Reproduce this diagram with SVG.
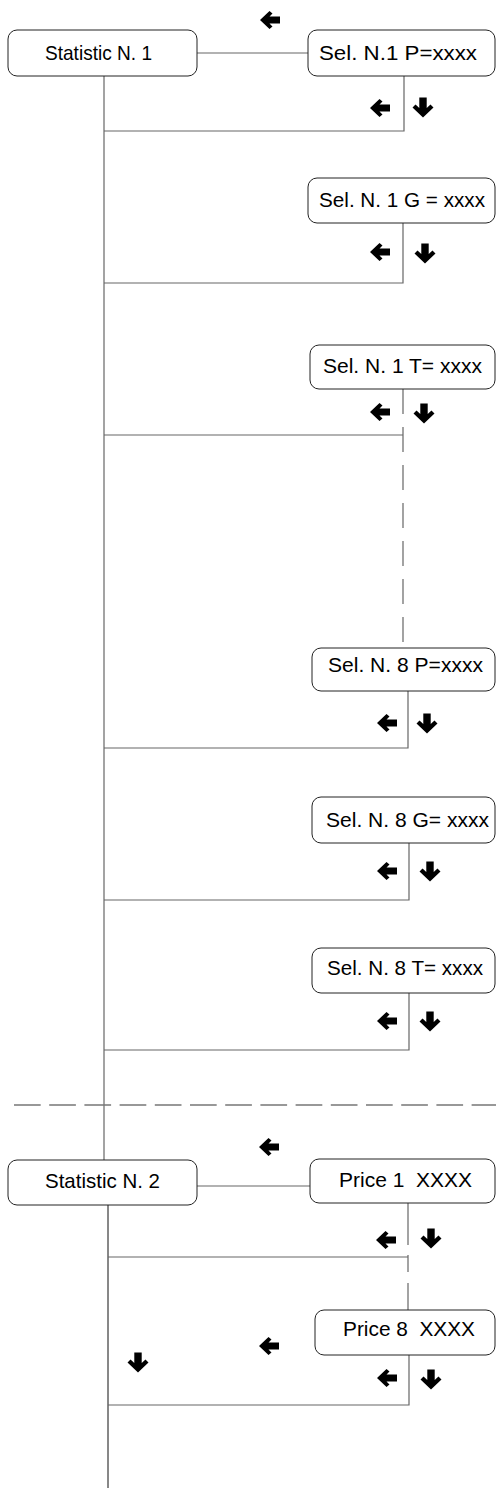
<svg xmlns="http://www.w3.org/2000/svg" xmlns:xlink="http://www.w3.org/1999/xlink" width="496" height="1488" viewBox="0 0 496 1488">
<style>
.box{fill:#fff;stroke:#222;stroke-width:1}
.t{font-family:"Liberation Sans",Arial,sans-serif;font-size:21px;fill:#000}
.c{stroke:#666;stroke-width:1.2;fill:none}
.cb{stroke:#111;stroke-width:1;fill:none}
.d{stroke:#666;stroke-width:1.2;fill:none;stroke-dasharray:25 13}
.dh{stroke:#777;stroke-width:1.5;fill:none;stroke-dasharray:26.7 8.5}
</style>
<defs>
<path id="la" d="M-10,0 L-0.5,-9 L2.5,-6.5 L-0.5,-3.6 L10,-3.6 L10,3.6 L-0.5,3.6 L2.5,6.5 L-0.5,9 Z" fill="#000"/>
<path id="da" d="M0,10.5 L-10.5,0.5 L-7.5,-2.5 L-3.7,1 L-3.7,-9.5 L3.7,-9.5 L3.7,1 L7.5,-2.5 L10.5,0.5 Z" fill="#000"/>
</defs>
<g id="connectors">
<line class="c" x1="197" y1="53" x2="308" y2="53"/>
<line class="c" x1="104" y1="76" x2="104" y2="1160"/>
<polyline class="c" points="404,76 404,131 104,131"/>
<polyline class="c" points="403,223 403,283 104,283"/>
<line class="d" x1="403" y1="389" x2="403" y2="648"/>
<line class="c" x1="104" y1="435" x2="403" y2="435"/>
<polyline class="c" points="408,691 408,748 104,748"/>
<polyline class="c" points="409,843 409,900 104,900"/>
<polyline class="c" points="409,993 409,1050 104,1050"/>
<line class="dh" x1="14" y1="1105" x2="496" y2="1105"/>
<line class="c" x1="197" y1="1186" x2="310" y2="1186"/>
<line class="cb" x1="108" y1="1205" x2="108" y2="1488"/>
<line class="c" x1="408" y1="1203" x2="408" y2="1245"/>
<line class="c" x1="408" y1="1255" x2="408" y2="1272"/>
<line class="c" x1="408" y1="1283" x2="408" y2="1310"/>
<line class="c" x1="108" y1="1257" x2="408" y2="1257"/>
<polyline class="c" points="409,1355 409,1405 108,1405"/>
</g>
<g id="arrows">
<use xlink:href="#la" x="270" y="20"/>
<use xlink:href="#la" x="380" y="108"/>
<use xlink:href="#da" x="423" y="107"/>
<use xlink:href="#la" x="380" y="252"/>
<use xlink:href="#da" x="425" y="253"/>
<use xlink:href="#la" x="380" y="412"/>
<use xlink:href="#da" x="424" y="413"/>
<use xlink:href="#la" x="387" y="723"/>
<use xlink:href="#da" x="427" y="723"/>
<use xlink:href="#la" x="387" y="871"/>
<use xlink:href="#da" x="430" y="871"/>
<use xlink:href="#la" x="387" y="1021"/>
<use xlink:href="#da" x="430" y="1021"/>
<use xlink:href="#la" x="269" y="1147"/>
<use xlink:href="#la" x="386" y="1240"/>
<use xlink:href="#da" x="431" y="1238"/>
<use xlink:href="#la" x="269" y="1346"/>
<use xlink:href="#da" x="138" y="1362"/>
<use xlink:href="#la" x="387" y="1378"/>
<use xlink:href="#da" x="431" y="1379"/>
</g>
<g id="stat1"><rect class="box" x="8" y="30" width="189" height="46" rx="9"/><text class="t" x="45" y="60" textLength="107" lengthAdjust="spacingAndGlyphs">Statistic N. 1</text></g>
<g id="sel1p"><rect class="box" x="308" y="30" width="187" height="46" rx="9"/><text class="t" x="319" y="60" textLength="158" lengthAdjust="spacingAndGlyphs">Sel. N.1 P=xxxx</text></g>
<g id="sel1g"><rect class="box" x="308" y="178" width="187" height="45" rx="9"/><text class="t" x="319" y="207" textLength="166" lengthAdjust="spacingAndGlyphs">Sel. N. 1 G = xxxx</text></g>
<g id="sel1t"><rect class="box" x="310" y="345" width="185" height="44" rx="9"/><text class="t" x="323" y="373" textLength="159" lengthAdjust="spacingAndGlyphs">Sel. N. 1 T= xxxx</text></g>
<g id="sel8p"><rect class="box" x="312" y="648" width="183" height="43" rx="9"/><text class="t" x="328" y="672" textLength="155" lengthAdjust="spacingAndGlyphs">Sel. N. 8 P=xxxx</text></g>
<g id="sel8g"><rect class="box" x="312" y="797" width="183" height="46" rx="9"/><text class="t" x="326" y="827" textLength="163" lengthAdjust="spacingAndGlyphs">Sel. N. 8 G= xxxx</text></g>
<g id="sel8t"><rect class="box" x="312" y="948" width="183" height="45" rx="9"/><text class="t" x="327" y="975" textLength="156" lengthAdjust="spacingAndGlyphs">Sel. N. 8 T= xxxx</text></g>
<g id="stat2"><rect class="box" x="8" y="1160" width="189" height="45" rx="9"/><text class="t" x="45" y="1188" textLength="115" lengthAdjust="spacingAndGlyphs">Statistic N. 2</text></g>
<g id="price1"><rect class="box" x="310" y="1159" width="185" height="44" rx="9"/><text class="t" x="339" y="1187" textLength="133" lengthAdjust="spacingAndGlyphs" xml:space="preserve">Price 1  XXXX</text></g>
<g id="price8"><rect class="box" x="315" y="1310" width="180" height="45" rx="9"/><text class="t" x="343" y="1336" textLength="132" lengthAdjust="spacingAndGlyphs" xml:space="preserve">Price 8  XXXX</text></g>
</svg>
